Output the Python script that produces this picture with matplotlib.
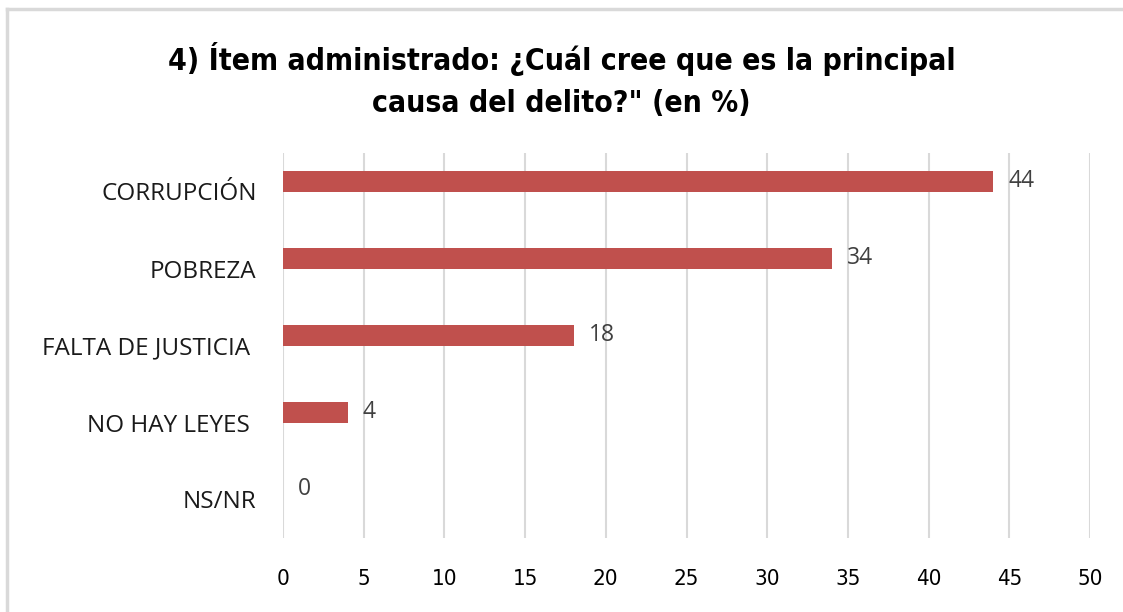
import matplotlib
matplotlib.use('Agg')
import matplotlib.pyplot as plt
from matplotlib.lines import Line2D

# data
categories = ['CORRUPCIÓN', 'POBREZA', 'FALTA DE JUSTICIA ', 'NO HAY LEYES ', 'NS/NR']
values = [44, 34, 18, 4, 0]
xticks = [0, 5, 10, 15, 20, 25, 30, 35, 40, 45, 50]
title = '4) Ítem administrado: ¿Cuál cree que es la principal\ncausa del delito?" (en %)'

bar_color = '#C0504D'
grid_color = '#D9D9D9'

fig = plt.figure(figsize=(11.23, 6.12), dpi=100)
ax = fig.add_axes([283 / 1123, 1 - 538 / 612, 807 / 1123, 385 / 612])

ypos = list(range(len(categories)))
bar_y = [y - 0.13 for y in ypos]  # excel puts the bar above the category centre
ax.barh(bar_y, values, height=0.26, color=bar_color, zorder=3)

for y, v in zip(bar_y, values):
    ax.annotate(str(v), (v, y), xytext=(11, 0), textcoords='offset points',
                ha='left', va='center', fontsize=16.5, color='#404040',
                family='Open Sans')

ax.set_xlim(0, 50)
ax.set_ylim(len(categories) - 0.5, -0.5)
ax.set_xticks(xticks)
ax.set_xticklabels([str(t) for t in xticks], family='DejaVu Sans',
                   stretch='condensed', fontsize=16)
ax.set_yticks(ypos)
ax.set_yticklabels(categories, family='Open Sans', fontsize=17.5, color='#1a1a1a')
ax.tick_params(axis='x', length=0, pad=22)
ax.tick_params(axis='y', length=0, pad=19)
ax.xaxis.grid(True, color=grid_color, linewidth=1.5, zorder=0)
ax.set_axisbelow(True)
for s in ax.spines.values():
    s.set_visible(False)

fig.text(0.5, 1 - 80 / 612, title, ha='center', va='center', fontsize=21.6,
         fontweight='bold', family='DejaVu Sans', stretch='condensed',
         linespacing=1.55)

# chart border (top and left only visible)
fig.add_artist(Line2D([7 / 1123, 1], [1 - 9 / 612, 1 - 9 / 612], color='#D9D9D9',
                      linewidth=2.5, transform=fig.transFigure))
fig.add_artist(Line2D([7 / 1123, 7 / 1123], [0, 1 - 9 / 612], color='#D9D9D9',
                      linewidth=2.5, transform=fig.transFigure))

fig.savefig('out.png', dpi=100)
